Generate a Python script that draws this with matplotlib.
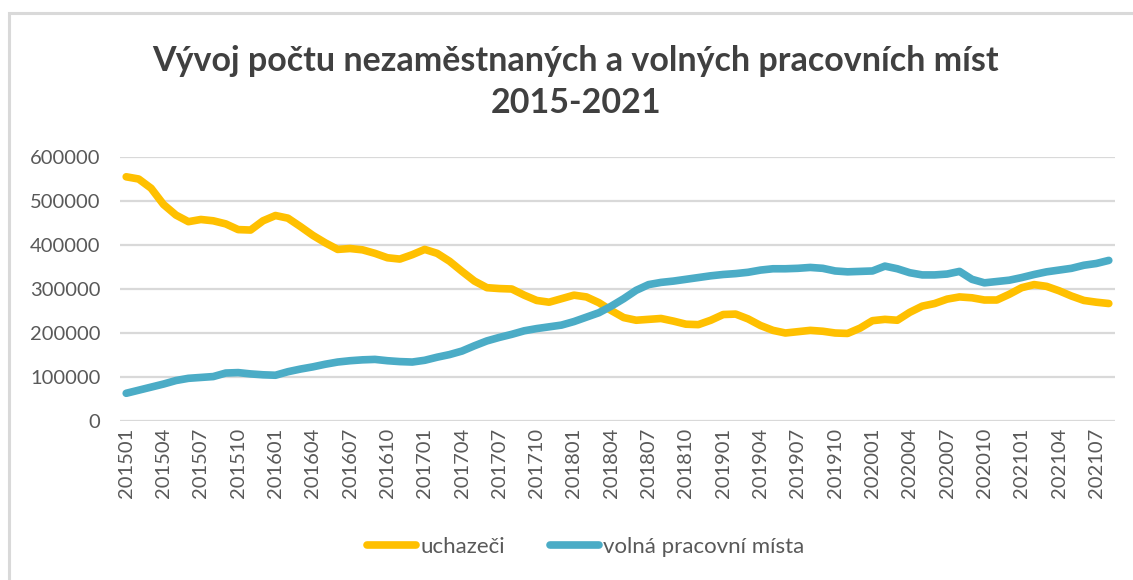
import matplotlib.pyplot as plt
from matplotlib.patches import Rectangle

# mesice 2015-01 .. 2021-08
mesice = [f"{r}{m:02d}" for r in range(2015, 2022) for m in range(1, 13)][:80]

uchazeci = [
    555000, 550000, 529000, 492000, 468000, 453000, 458000, 455000, 448000, 435000,
    434000, 455000, 467000, 461000, 442000, 422000, 405000, 390000, 392000, 389000,
    381000, 371000, 368000, 378000, 390000, 381000, 363000, 340000, 318000, 303000,
    301000, 300000, 286000, 274000, 270000, 278000, 286000, 282000, 269000, 251000,
    235000, 229000, 231000, 233000, 227000, 220000, 219000, 229000, 242000, 243000,
    232000, 217000, 206000, 200000, 203000, 206000, 204000, 200000, 199000, 211000,
    228000, 231000, 229000, 247000, 261000, 267000, 277000, 282000, 280000, 275000,
    275000, 288000, 303000, 310000, 306000, 296000, 284000, 274000, 270000, 267000,
]

volna_mista = [
    63000, 70000, 77000, 84000, 92000, 97000, 99000, 101000, 109000, 110000,
    107000, 105000, 104000, 112000, 118000, 123000, 129000, 134000, 137000, 139000,
    140000, 137000, 135000, 134000, 138000, 145000, 151000, 159000, 171000, 182000,
    190000, 197000, 205000, 210000, 214000, 218000, 226000, 236000, 246000, 261000,
    278000, 297000, 310000, 315000, 318000, 322000, 326000, 330000, 333000, 335000,
    338000, 343000, 346000, 346000, 347000, 349000, 347000, 341000, 339000, 340000,
    341000, 352000, 346000, 337000, 332000, 332000, 334000, 340000, 322000, 314000,
    317000, 320000, 326000, 333000, 339000, 343000, 347000, 354000, 358000, 365000,
]

seda = '#595959'
plt.rcParams['font.family'] = ['Lato', 'DejaVu Sans']

fig = plt.figure(figsize=(11.33, 5.8), dpi=100)
ax = fig.add_axes([120/1133, 1 - 421/580, 995/1133, 264/580])

x = list(range(len(mesice)))
ax.plot(x, uchazeci, color='#FFC000', lw=5.5, solid_capstyle='round', label='uchazeči', zorder=3)
ax.plot(x, volna_mista, color='#4BACC6', lw=5.5, solid_capstyle='round', label='volná pracovní místa', zorder=3)

ax.set_xlim(-0.5, len(mesice) - 0.5)
ax.set_ylim(0, 600000)
ax.set_yticks(range(0, 600001, 100000))
ax.set_yticklabels([str(v) for v in range(0, 600001, 100000)])
ax.set_xticks(x[::3])
ax.set_xticklabels(mesice[::3], rotation=90)
ax.grid(axis='y', color='#d9d9d9', lw=1.6)
ax.set_axisbelow(True)
for s in ax.spines.values():
    s.set_visible(False)
ax.tick_params(axis='both', length=0, colors=seda, labelsize=14.5)
ax.tick_params(axis='y', pad=14)
ax.tick_params(axis='x', pad=5)

fig.text(0.508, 0.895, 'Vývoj počtu nezaměstnaných a volných pracovních míst',
         ha='center', va='center', fontsize=24.5, fontweight='bold', color='#404040')
fig.text(0.508, 0.822, '2015-2021', ha='center', va='center',
         fontsize=24.5, fontweight='bold', color='#404040')

leg = fig.legend(loc='center', bbox_to_anchor=(0.517, 1 - 547/580), ncol=2, frameon=False,
                 fontsize=16, handlelength=2.2, columnspacing=2.0, handletextpad=0.2)
for t in leg.get_texts():
    t.set_color(seda)

# ramecek grafu
fig.patches.append(Rectangle((9/1133, -0.1), 1.2, 1 - 13/580 + 0.1, transform=fig.transFigure,
                             fill=False, edgecolor='#d9d9d9', lw=2.2))

fig.savefig('out.png', dpi=100)
